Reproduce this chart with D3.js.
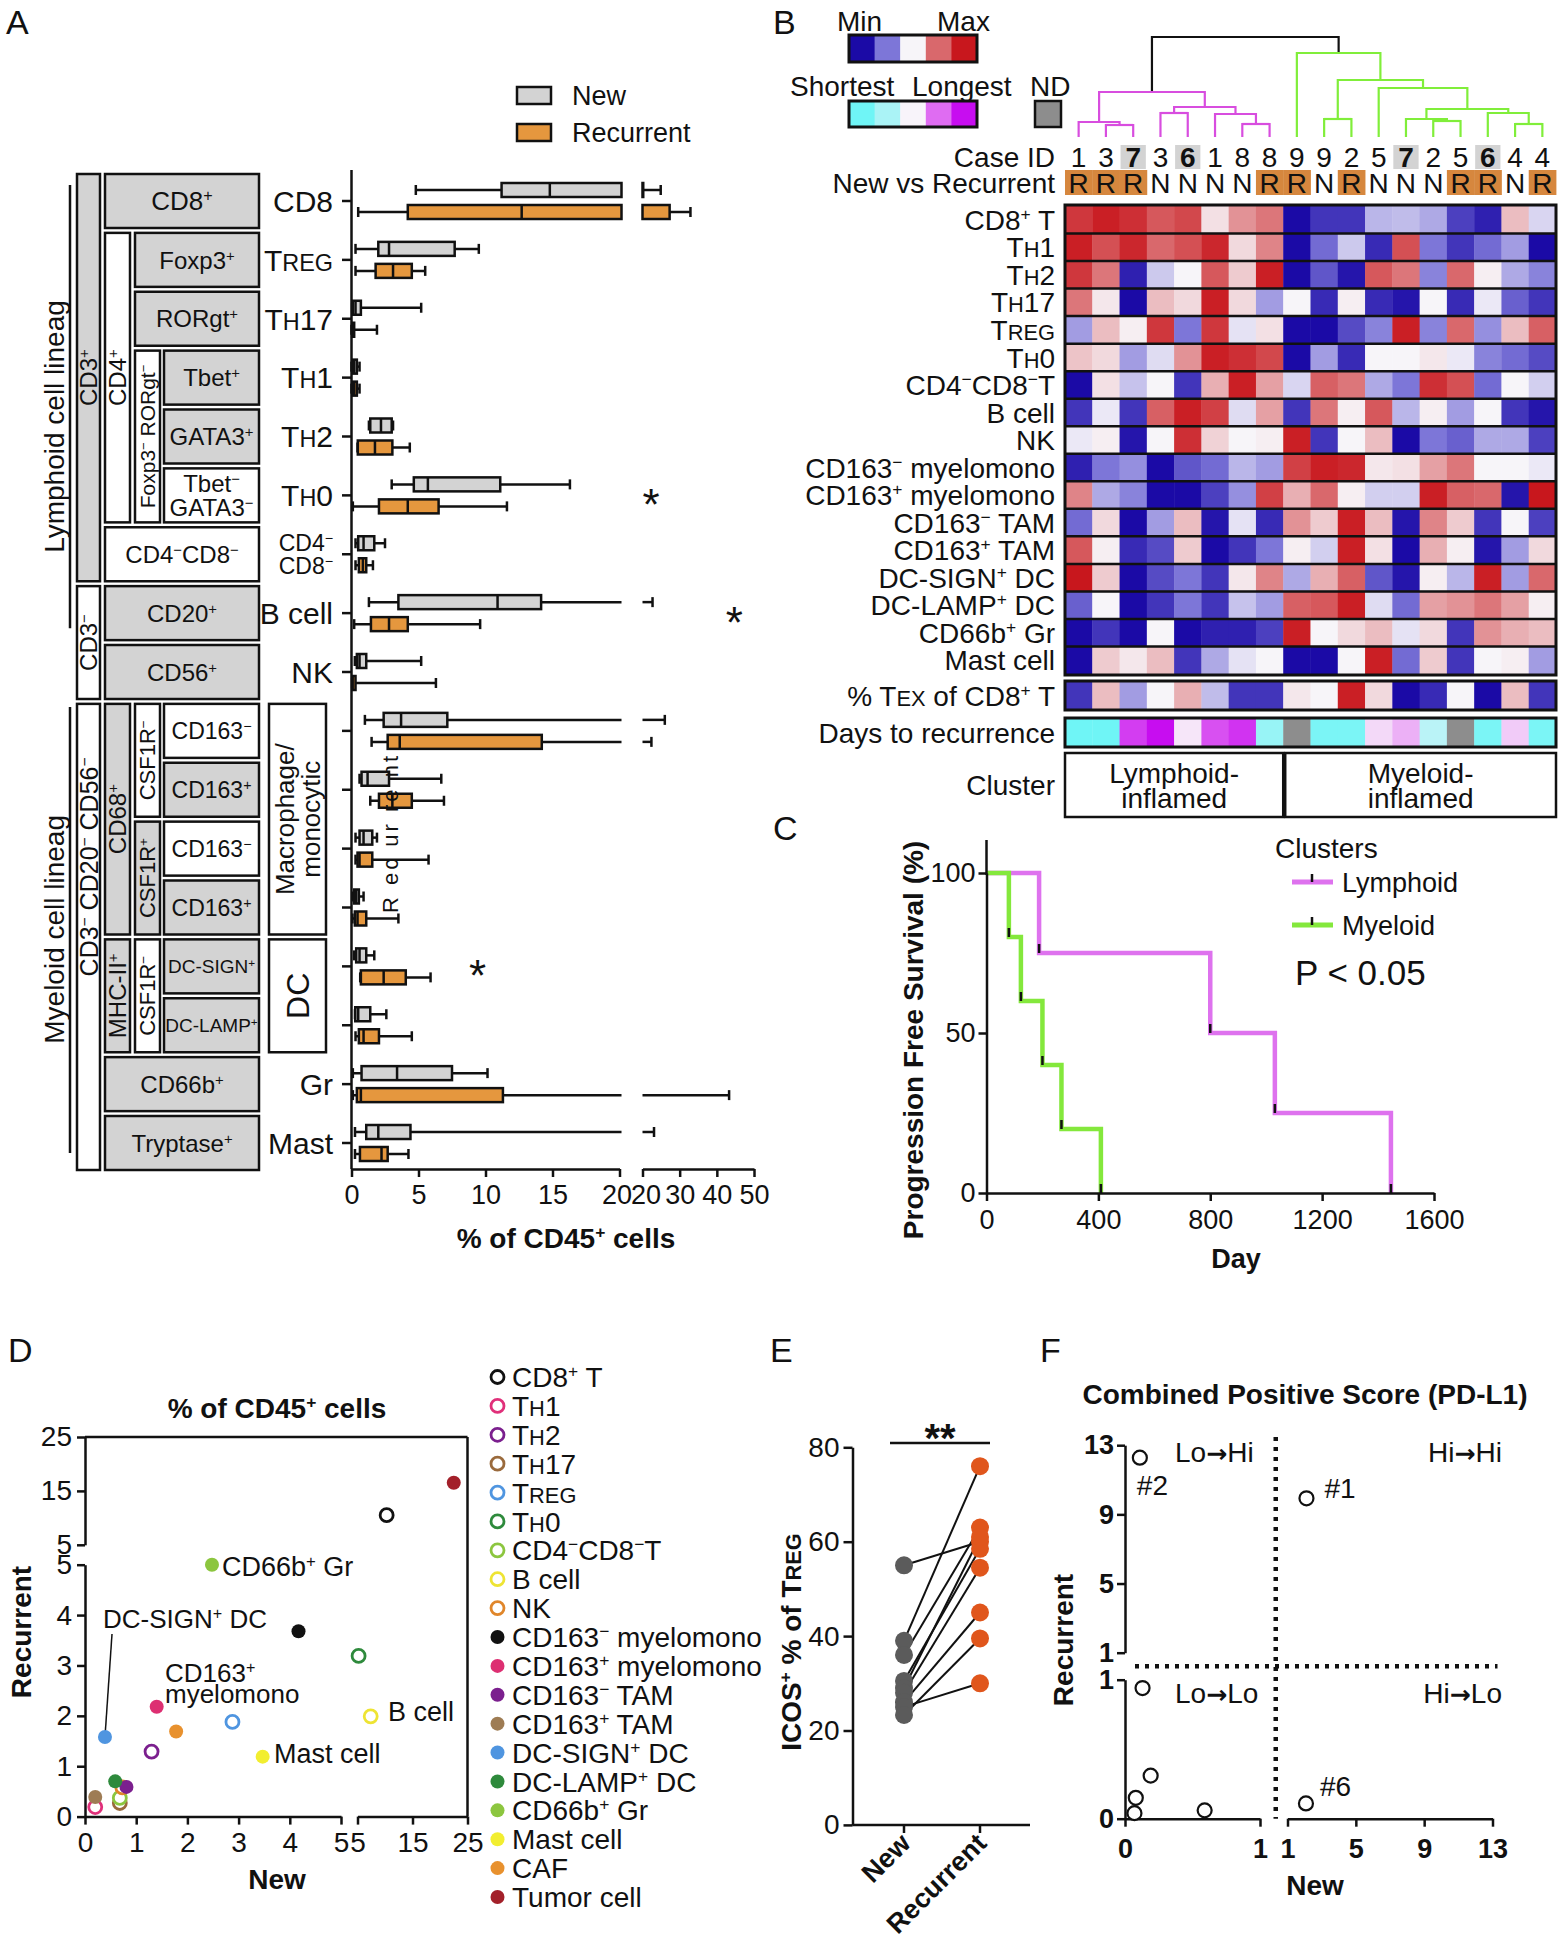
<!DOCTYPE html>
<html>
<head>
<meta charset="utf-8">
<title>Immune landscape figure</title>
<script src="https://cdn.jsdelivr.net/npm/d3@7"></script>
<style>
  body { margin: 0; background: #fff; }
  svg { display: block; font-family: "Liberation Sans", Arial, Helvetica, sans-serif; }
</style>
</head>
<body>
<svg id="fig" width="1568" height="1950"></svg>
<script>
// ---------------- data: panel A (box plots, % of CD45+) ----------------
const rowsA = ["CD8","TREG","TH17","TH1","TH2","TH0","CD4CD8","Bcell","NK","M163n","M163p","O163n","O163p","DCSIGN","DCLAMP","Gr","Mast"];
const rowTextA = ["CD8","T{REG}","T{H}17","T{H}1","T{H}2","T{H}0","","B cell","NK","","","","","","","Gr","Mast"];
// [min, q1, median, q3, max]
const newStats = [
  [4.8,11.2,14.8,20.2,24.9],[0.3,2.0,2.8,7.7,9.5],[0.05,0.1,0.3,0.7,5.2],[0,0.1,0.2,0.4,0.6],
  [1.3,1.4,2.2,3.0,3.1],[3.0,4.65,5.7,11.1,16.3],[0.3,0.5,0.9,1.7,2.5],[1.3,3.5,10.9,14.15,22.7],
  [0.25,0.4,0.6,1.1,5.2],[1.0,2.4,3.7,7.15,26.0],[0.6,0.75,1.2,2.8,6.7],[0.3,0.6,0.9,1.55,1.9],
  [0.1,0.2,0.35,0.55,0.9],[0.2,0.35,0.6,1.1,1.7],[0.26,0.28,0.5,1.4,2.6],[0.1,0.75,3.4,7.5,10.15],
  [0.26,1.1,2.0,4.4,23.1]
];
const recStats = [
  [0.5,4.2,12.7,27.3,32.9],[0.3,1.8,3.1,4.5,5.5],[0,0.05,0.1,0.2,1.9],[0,0.1,0.2,0.4,0.6],
  [0.45,0.47,1.75,3.05,4.35],[0.1,2.05,4.2,6.5,11.6],[0.3,0.55,0.85,1.1,1.6],[0.2,1.45,2.8,4.2,9.6],
  [0.05,0.06,0.08,0.3,6.3],[1.5,2.7,3.6,14.2,22.4],[1.4,2.05,3.05,4.5,6.9],[0.3,0.45,0.6,1.55,5.75],
  [0.07,0.25,0.45,1.1,3.5],[0.65,0.7,2.4,4.05,5.9],[0.3,0.55,0.9,2.05,4.5],[0.1,0.4,0.7,11.3,43.3],
  [0.26,0.63,2.24,2.7,4.25]
];
const starRows = ["TH0","Bcell","DCSIGN"];
const starVals = [22.3, 44.7, 9.4];
// lineage boxes: column, first row, last row, label, grey?, vertical?, font size
const lineage = [
  ["c3","CD8","CD4CD8","CD3^+",1,1,24],
  ["c46","CD8","CD8","CD8^+",1,0,26],
  ["c4","TREG","TH0","CD4^+",0,1,24],
  ["c56","TREG","TREG","Foxp3^+",1,0,24],
  ["c56","TH17","TH17","RORgt^+",1,0,24],
  ["c5","TH1","TH0","Foxp3^- RORgt^-",0,1,21],
  ["c6","TH1","TH1","Tbet^+",1,0,24],
  ["c6","TH2","TH2","GATA3^+",1,0,24],
  ["c6","TH0","TH0","Tbet^-|GATA3^-",0,0,24],
  ["c46","CD4CD8","CD4CD8","CD4^-CD8^-",0,0,24],
  ["c3","Bcell","NK","CD3^-",0,1,24],
  ["c46","Bcell","Bcell","CD20^+",1,0,24],
  ["c46","NK","NK","CD56^+",1,0,24],
  ["c3","M163n","Mast","CD3^- CD20^- CD56^-",0,1,25],
  ["c4","M163n","O163p","CD68^+",1,1,24],
  ["c5","M163n","M163p","CSF1R^-",0,1,22],
  ["c6","M163n","M163n","CD163^-",0,0,23],
  ["c6","M163p","M163p","CD163^+",1,0,23],
  ["c5","O163n","O163p","CSF1R^+",1,1,22],
  ["c6","O163n","O163n","CD163^-",0,0,23],
  ["c6","O163p","O163p","CD163^+",1,0,23],
  ["c4","DCSIGN","DCLAMP","MHC-II^+",1,1,24],
  ["c5","DCSIGN","DCLAMP","CSF1R^-",0,1,22],
  ["c6","DCSIGN","DCSIGN","DC-SIGN^+",1,0,19],
  ["c6","DCLAMP","DCLAMP","DC-LAMP^+",1,0,19],
  ["c46","Gr","Gr","CD66b^+",1,0,24],
  ["c46","Mast","Mast","Tryptase^+",1,0,24],
  ["mac","M163n","O163p","Macrophage/|monocytic",0,1,26],
  ["mac","DCSIGN","DCLAMP","DC",0,1,32]
];

// ---------------- data: panel B (heatmap) ----------------
const caseIds = ["1","3","7","3","6","1","8","8","9","9","2","5","7","2","5","6","4","4"];
const caseBold = [0,0,1,0,1,0,0,0,0,0,0,0,1,0,0,1,0,0];
const caseType = ["R","R","R","N","N","N","N","R","R","N","R","N","N","N","R","R","N","R"];
const heatRows = ["CD8^+ T","T{H}1","T{H}2","T{H}17","T{REG}","T{H}0","CD4^-CD8^-T","B cell","NK",
  "CD163^- myelomono","CD163^+ myelomono","CD163^- TAM","CD163^+ TAM","DC-SIGN^+ DC","DC-LAMP^+ DC","CD66b^+ Gr","Mast cell"];
const heatVals = [
  [1.6,1.9,1.7,1.2,1.4,0.15,0.7,0.9,-2,-1.6,-1.6,-0.5,-0.45,-0.6,-1.5,-1.8,0.4,-0.25],
  [1.9,1.3,1.8,1.0,1.3,1.8,0.2,0.8,-2,-1.1,-0.35,-1.7,1.3,-1.0,-1.6,-1.1,-0.7,-2],
  [1.6,0.9,-1.8,-0.35,0,1.2,0.3,1.9,-2,-1.3,-1.9,1.2,0.9,-0.9,1.0,0.05,-0.6,-0.9],
  [0.9,0.1,-2,0.4,0.2,1.9,0.2,-0.7,0,-1.7,0.05,-1.7,-1.9,0,-1.7,-0.1,-1.2,-1.6],
  [-0.7,0.4,0.05,1.6,-1.0,1.6,-0.15,0.15,-2,-2,-1.4,-0.9,1.9,-0.9,1.0,-0.8,0.4,1.1],
  [0.35,0.2,-0.7,-0.2,0.7,1.9,1.7,1.4,-2,-0.7,-1.7,0,0,0.1,-0.1,-0.9,-1.1,-1.4],
  [-2,0.15,-0.4,0,-1.6,0.5,1.9,0.6,-0.25,1.1,0.9,-0.6,-1.0,1.7,1.3,-1.1,0,-0.3],
  [-1.6,-0.1,-1.6,1.1,1.9,1.5,-0.2,0.6,-1.6,0.9,0.05,1.2,-0.5,0.05,-0.7,0,-1.6,-1.9],
  [-0.1,0.05,-1.9,0,1.7,0.25,0,0.05,1.9,-1.6,0,0.4,-2,-1.0,-1.2,-0.6,-0.6,-1.5],
  [-1.8,-1.0,-0.8,-2,-1.3,-1.1,-0.5,-0.7,1.5,1.9,1.8,0.1,0.15,0.6,0.9,0,0,-0.1],
  [0.8,-0.6,-0.9,-2,-2,-1.5,-0.8,1.5,0.5,1.0,0.05,-0.3,-0.3,1.9,1.1,1.0,-1.9,2],
  [-1.1,0.2,-2,-0.7,0.4,-1.9,-0.15,-1.7,0.7,0.3,1.9,0.4,-1.9,0.8,0.3,-1.6,0,-1.5],
  [1.2,0.05,-1.7,-1.4,0.3,-2,-1.6,-1.0,0.05,-0.3,1.9,0.15,-2,0.5,0.05,-1.9,-0.7,0.2],
  [2,0.3,-2,-1.4,-1.0,-1.6,0.1,0.8,-0.6,0.5,1.1,-1.3,-1.9,0.05,-0.5,1.9,-0.7,1.0],
  [-1.2,0,-2,-1.6,-1.0,-1.6,-0.4,-0.7,1.1,1.2,1.9,-0.2,-1.1,0.6,0.7,0.9,0.6,0.05],
  [-2,-1.6,-2,0,-2,-1.8,-1.8,-1.5,1.9,0,0.2,0.4,-0.15,0.2,-1.6,0.7,0.5,0.4],
  [-2,0.3,0.1,0.4,-1.6,-0.6,-0.15,0,-2,-2,0,1.9,-1.1,0.3,-1.6,0,0.05,-0.7]
];
const texVals = [-1.6,0.4,-0.7,0,0.5,-0.45,-1.6,-1.6,0.1,0,1.9,0.2,-2,-1.7,0,-2,0.4,-1.6];
const daysVals = [-2,-2,1.5,2,0.1,1.3,1.6,-1.3,null,-1.8,-1.8,0.2,0.5,-0.8,null,-1.8,0.3,-1.8];
// dendrogram: merge heights (arbitrary distance units), leaves are column indices
const dendro = {h:100, c:[
  {h:45, c:[{h:15, c:[0, {h:12, c:[1,2]}]}, {h:30, c:[{h:24, c:[3,4]}, {h:23, c:[5, {h:13, c:[6,7]}]}]}]},
  {h:84, c:[8, {h:57, c:[{h:18, c:[9,10]}, {h:49, c:[11, {h:28, c:[{h:18, c:[12, {h:16, c:[13,14]}]}, {h:24, c:[15, {h:13, c:[16,17]}]}]}]}]}]}
]};

// ---------------- data: panel C (Kaplan-Meier) ----------------
const lymphDays = [0,188,800,1031,1446];
const lymphPFS  = [100,75,50,25,0];
const myeloDays = [0,80,123,200,268,409];
const myeloPFS  = [100,80,60,40,20,0];

// ---------------- data: panel D ----------------
const dCells = ["CD8^+ T","T{H}1","T{H}2","T{H}17","T{REG}","T{H}0","CD4^-CD8^-T","B cell","NK","CD163^- myelomono",
  "CD163^+ myelomono","CD163^- TAM","CD163^+ TAM","DC-SIGN^+ DC","DC-LAMP^+ DC","CD66b^+ Gr","Mast cell","CAF","Tumor cell"];
const dNew = [10.3,0.2,1.3,0.68,2.88,5.2,0.68,7.4,0.73,4.17,1.40,0.81,0.2,0.39,0.59,2.48,3.47,1.78,22.5];
const dRec = [10.5,0.19,1.29,0.27,1.88,3.19,0.37,1.99,0.58,3.68,2.18,0.59,0.39,1.58,0.70,5.0,1.19,1.69,16.5];
const dColors = ["#111111","#e0307a","#7b1f8e","#9a6a3c","#4f95e0","#2e8a3c","#8cc63f","#eee433","#e0862a","#111111",
  "#dd2f72","#7b1f8e","#9e7c54","#4f95e0","#2e8a3c","#8cc63f","#f2ee30","#e8912e","#a3202a"];
const dFilled = [0,0,0,0,0,0,0,0,0,1,1,1,1,1,1,1,1,1,1];

// ---------------- data: panel E ----------------
const icosNew = [55, 39, 36, 30.5, 29, 28, 26, 25, 23.3];
const icosRec = [60, 76, 63, 58.5, 61, 54.5, 45, 30, 39.5];

// ---------------- data: panel F ----------------
const cpsNew = [0.11, 2.11, 0.13, 0.19, 0.08, 0.07, 0.59, 2.08];
const cpsRec = [12.28, 9.93, 0.94, 0.31, 0.15, 0.04, 0.06, 0.11];
const cpsTag = ["#2","#1","","","","","","#6"];

// ================= helpers =================
const svg = d3.select("#fig");
const GREY = "#d3d3d3", INK = "#111";
const fmtInt = d3.format("d");

// "^+" / "^-" superscripts, "{ABC}" small caps, ">" arrow
function rich(t, str, fs) {
  const re = /\^([+\-])|\{([^}]*)\}|(>)|([^^{>]+)/g;
  let m;
  while ((m = re.exec(str)) !== null) {
    if (m[1]) t.append("tspan").attr("baseline-shift", "super").attr("font-size", fs * 0.62).text(m[1] === "+" ? "+" : "\u2212");
    else if (m[2] !== undefined) t.append("tspan").attr("font-size", fs * 0.78).text(m[2]);
    else if (m[3]) t.append("tspan").attr("font-family", "DejaVu Sans").attr("font-weight", "bold").attr("font-size", fs * 0.9).text("\u2192");
    else t.append("tspan").text(m[4]);
  }
  return t;
}
function txt(g, x, y, str, fs, o = {}) {
  const lines = String(str).split("|");
  const lh = o.lh || fs;
  const holder = g.append("g").attr("transform", `translate(${x},${y})` + (o.rot ? ` rotate(${o.rot})` : ""));
  lines.forEach((s, i) => {
    const t = holder.append("text")
      .attr("x", 0)
      .attr("y", (i - (lines.length - 1) / 2) * lh + (o.mid ? fs * 0.36 : 0))
      .attr("font-size", fs)
      .attr("text-anchor", o.anchor || "start")
      .attr("fill", o.fill || INK);
    if (o.bold) t.attr("font-weight", "bold");
    if (o.ls) t.attr("letter-spacing", o.ls);
    rich(t, s, fs);
  });
  return holder;
}
function line(g, x1, y1, x2, y2, col = INK, w = 2.5) {
  return g.append("line").attr("x1", x1).attr("y1", y1).attr("x2", x2).attr("y2", y2)
    .attr("stroke", col).attr("stroke-width", w);
}
function styleAxis(g, fs, bold) {
  g.attr("font-family", null).attr("font-size", fs);
  g.selectAll("path, line").attr("stroke", INK).attr("stroke-width", 2.5);
  g.selectAll("text").attr("fill", INK).attr("font-weight", bold ? "bold" : null);
}
function letter(x, y, s) { svg.append("text").attr("x", x).attr("y", y).attr("font-size", 34).attr("fill", INK).text(s); }

// ================= Panel A =================
const gA = svg.append("g");
letter(6, 34, "A");
const xA1 = d3.scaleLinear().domain([0, 20]).range([351.5, 619.5]);
const xA2 = d3.scaleLinear().domain([20, 50]).range([642.5, 754]);
const yA = d3.scalePoint().domain(rowsA).range([201, 1143]);
const xA = v => v <= 20 ? xA1(v) : xA2(v);
const spans = (a, b) => b <= 20 ? [[xA1(a), xA1(b)]] : a >= 20 ? [[xA2(a), xA2(b)]]
  : [[xA1(a), xA1(20) + 2], [xA2(20), xA2(b)]];

// legend
[["New", GREY, 87], ["Recurrent", "#e5973e", 124]].forEach(([lab, col, y]) => {
  gA.append("rect").attr("x", 517).attr("y", y).attr("width", 34).attr("height", 17)
    .attr("fill", col).attr("stroke", INK).attr("stroke-width", 2.5);
  txt(gA, 572, y + 18, lab, 27);
});

// lineage annotation boxes
const colX = { c3: [77, 100], c4: [105, 130], c5: [135, 160], c6: [164, 259], c56: [135, 259], c46: [105, 259], mac: [269, 326] };
lineage.forEach(([col, r0, r1, lab, grey, vert, fs]) => {
  const [x0, x1] = colX[col];
  const y0 = yA(r0) - 27, y1 = yA(r1) + 27;
  gA.append("rect").attr("x", x0).attr("y", y0).attr("width", x1 - x0).attr("height", y1 - y0)
    .attr("fill", grey ? GREY : "#fff").attr("stroke", INK).attr("stroke-width", 2.5);
  const cy = lab.startsWith("CD3^- CD20") ? (y0 + y1) / 2 - 70 : (y0 + y1) / 2;
  txt(gA, (x0 + x1) / 2, cy, lab, fs, { anchor: "middle", mid: true, rot: vert ? -90 : 0, lh: fs * 1.0 });
});
// lineage brackets
line(gA, 70, yA("CD8") - 16, 70, yA("Bcell") + 15);
line(gA, 70, yA("M163n") - 24, 70, yA("Mast") + 10);
txt(gA, 54, yA("TH2") - 10, "Lymphoid cell lineag", 28, { anchor: "middle", mid: true, rot: -90 });
txt(gA, 54, yA("DCSIGN") - 37, "Myeloid cell lineag", 28, { anchor: "middle", mid: true, rot: -90 });

// boxes
function drawBox(s, yc, fill) {
  const [mn, q1, md, q3, mx] = s;
  spans(mn, mx).forEach(([a, b]) => line(gA, a, yc, b, yc));
  [mn, mx].forEach(v => line(gA, xA(v), yc - 5, xA(v), yc + 5));
  spans(q1, q3).forEach(([a, b]) => gA.append("rect").attr("x", a).attr("y", yc - 7)
    .attr("width", Math.max(b - a, 0.6)).attr("height", 14)
    .attr("fill", fill).attr("stroke", INK).attr("stroke-width", 2.5));
  line(gA, xA(md), yc - 7, xA(md), yc + 7);
}
rowsA.forEach((r, i) => {
  drawBox(newStats[i], yA(r) - 11, GREY);
  drawBox(recStats[i], yA(r) + 11, "#e5973e");
});
// axes
line(gA, 351.5, 170, 351.5, 1169);
rowsA.forEach((r, i) => {
  line(gA, 342, yA(r), 351.5, yA(r));
  if (rowTextA[i]) txt(gA, 333, yA(r), rowTextA[i], 30, { anchor: "end", mid: true });
});
txt(gA, 333, yA("CD4CD8"), "CD4^-|CD8^-", 23, { anchor: "end", mid: true, lh: 23 });
const axA1 = gA.append("g").attr("transform", "translate(0,1169)")
  .call(d3.axisBottom(xA1).tickValues([0, 5, 10, 15, 20]).tickSize(8).tickSizeOuter(0).tickPadding(8));
const axA2 = gA.append("g").attr("transform", "translate(0,1169)")
  .call(d3.axisBottom(xA2).tickValues([20, 30, 40, 50]).tickSize(8).tickSizeOuter(0).tickPadding(8));
styleAxis(axA1, 27); styleAxis(axA2, 27);
// the two "20" labels meet at the axis break
axA1.selectAll(".tick text").filter(d => d === 20).attr("dx", -3);
axA2.selectAll(".tick text").filter(d => d === 20).attr("dx", 3);
txt(gA, 566, 1248, "% of CD45^+ cells", 28, { anchor: "middle", bold: true });
starRows.forEach((r, i) => txt(gA, xA(starVals[i]), yA(r) + 25, "*", 44, { anchor: "middle" }));
// stray rotated text present in the source figure
txt(gA, 398, 833, "R ec ur re nt", 22, { anchor: "middle", rot: -90, ls: 3 });

// ================= Panel B =================
const gB = svg.append("g");
letter(773, 34, "B");
const heatColor = d3.scaleLinear().domain([-2, -1, 0, 1, 2])
  .range(["#1b0aa6", "#7d76d8", "#f7f5f9", "#d9686c", "#c8171d"]).clamp(true);
const dayColor = d3.scaleLinear().domain([-2, -1, 0, 1, 2])
  .range(["#6ff5f6", "#aaf3f6", "#f8f4fa", "#df6cf2", "#c70df0"]).clamp(true);
const xB = d3.scaleBand().domain(d3.range(18)).range([1065, 1556]);
const yB = d3.scaleBand().domain(d3.range(heatRows.length)).range([206, 674]);
const bw = xB.bandwidth();

// legends
const legX = d3.scaleBand().domain(d3.range(5)).range([849, 977]);
[-2, -1, 0, 1, 2].forEach((v, i) => {
  gB.append("rect").attr("x", legX(i)).attr("y", 35).attr("width", legX.bandwidth() + 0.5).attr("height", 27).attr("fill", heatColor(v));
  gB.append("rect").attr("x", legX(i)).attr("y", 101).attr("width", legX.bandwidth() + 0.5).attr("height", 26).attr("fill", dayColor(v));
});
gB.append("rect").attr("x", 849).attr("y", 35).attr("width", 128).attr("height", 27).attr("fill", "none").attr("stroke", INK).attr("stroke-width", 3);
gB.append("rect").attr("x", 849).attr("y", 101).attr("width", 128).attr("height", 26).attr("fill", "none").attr("stroke", INK).attr("stroke-width", 3);
gB.append("rect").attr("x", 1035).attr("y", 101).attr("width", 26).attr("height", 26).attr("fill", "#8d8d8d").attr("stroke", INK).attr("stroke-width", 2.5);
txt(gB, 837, 31, "Min", 28); txt(gB, 937, 31, "Max", 28);
txt(gB, 790, 96, "Shortest", 28); txt(gB, 912, 96, "Longest", 28); txt(gB, 1030, 96, "ND", 28);

// dendrogram
const hy = d3.scaleLinear().domain([0, 100]).range([137, 37]);
function layout(n) {
  if (typeof n === "number") return { x: xB(n) + bw / 2, h: 0 };
  const kids = n.c.map(layout);
  return { x: (kids[0].x + kids[1].x) / 2, h: n.h, kids };
}
const clusterCol = ["#d84ddf", "#80ee3a"];
function drawNode(node, col, isRoot) {
  if (!node.kids) return;
  line(gB, node.kids[0].x, hy(node.h), node.kids[1].x, hy(node.h), col, 2.2);
  node.kids.forEach((k, i) => {
    line(gB, k.x, hy(node.h) - 1, k.x, hy(k.h), col, 2.2);
    drawNode(k, isRoot ? clusterCol[i] : col, false);
  });
}
drawNode(layout(dendro), INK, true);

// case ids & new/recurrent
caseIds.forEach((c, i) => {
  if (caseBold[i]) gB.append("rect").attr("x", xB(i) + 1).attr("y", 145).attr("width", bw - 2).attr("height", 24).attr("fill", GREY);
  txt(gB, xB(i) + bw / 2, 167, c, 28, { anchor: "middle", bold: !!caseBold[i] });
  if (caseType[i] === "R") gB.append("rect").attr("x", xB(i)).attr("y", 170).attr("width", bw + 0.4).attr("height", 25).attr("fill", "#d6873e");
  txt(gB, xB(i) + bw / 2, 193, caseType[i], 28, { anchor: "middle" });
});
txt(gB, 1055, 167, "Case ID", 28, { anchor: "end" });
txt(gB, 1055, 193, "New vs Recurrent", 28, { anchor: "end" });

// heatmap cells
heatVals.forEach((row, r) => row.forEach((v, c) => {
  gB.append("rect").attr("x", xB(c)).attr("y", yB(r)).attr("width", bw + 0.4).attr("height", yB.bandwidth() + 0.4).attr("fill", heatColor(v));
}));
d3.range(1, heatRows.length).forEach(r => line(gB, 1065, yB(r), 1556, yB(r), INK, 2.5));
gB.append("rect").attr("x", 1065).attr("y", 205).attr("width", 491).attr("height", 470).attr("fill", "none").attr("stroke", INK).attr("stroke-width", 3);
heatRows.forEach((lab, r) => txt(gB, 1055, yB(r) + yB.bandwidth() / 2, lab, 28, { anchor: "end", mid: true }));

// extra rows
[[texVals, 681, v => heatColor(v), "% T{EX} of CD8^+ T"], [daysVals, 718, v => v === null ? "#8d8d8d" : dayColor(v), "Days to recurrence"]]
  .forEach(([vals, y, colf, lab]) => {
    vals.forEach((v, c) => gB.append("rect").attr("x", xB(c)).attr("y", y).attr("width", bw + 0.4).attr("height", 29).attr("fill", colf(v)));
    gB.append("rect").attr("x", 1065).attr("y", y).attr("width", 491).attr("height", 29).attr("fill", "none").attr("stroke", INK).attr("stroke-width", 3);
    txt(gB, 1055, y + 14.5, lab, 28, { anchor: "end", mid: true });
  });

// cluster boxes
[[0, 7, "Lymphoid-|inflamed"], [8, 17, "Myeloid-|inflamed"]].forEach(([a, b, lab]) => {
  const x0 = xB(a) + (a ? 2 : 0), x1 = xB(b) + bw;
  gB.append("rect").attr("x", x0).attr("y", 753).attr("width", x1 - x0).attr("height", 64).attr("fill", "#fff").attr("stroke", INK).attr("stroke-width", 2.5);
  txt(gB, (x0 + x1) / 2, 785, lab, 28, { anchor: "middle", mid: true, lh: 25 });
});
txt(gB, 1055, 785, "Cluster", 28, { anchor: "end", mid: true });

// ================= Panel C =================
const gC = svg.append("g");
letter(773, 840, "C");
const xC = d3.scaleLinear().domain([0, 1600]).range([986.5, 1434]);
const yC = d3.scaleLinear().domain([0, 100]).range([1193, 873]);
const km = d3.line().x(d => xC(d[0])).y(d => yC(d[1])).curve(d3.curveStepAfter);
[[lymphDays, lymphPFS, "#de72ee"], [myeloDays, myeloPFS, "#84e83c"]].forEach(([t, s, col]) => {
  const pts = t.map((d, i) => [d, s[i]]);
  gC.append("path").attr("d", km(pts)).attr("fill", "none").attr("stroke", col).attr("stroke-width", 4.5);
  pts.slice(1).forEach(p => line(gC, xC(p[0]), yC(p[1]), xC(p[0]), yC(p[1]) - 9, INK, 2.5));
});
const axC1 = gC.append("g").attr("transform", "translate(0,1193)")
  .call(d3.axisBottom(xC).tickValues([0, 400, 800, 1200, 1600]).tickFormat(fmtInt).tickSize(8).tickSizeOuter(0).tickPadding(9));
const axC2 = gC.append("g").attr("transform", "translate(986.5,0)")
  .call(d3.axisLeft(yC).tickValues([0, 50, 100]).tickFormat(fmtInt).tickSize(8).tickSizeOuter(0).tickPadding(3));
styleAxis(axC1, 27); styleAxis(axC2, 27);
line(gC, 986.5, 840, 986.5, 875);
txt(gC, 1236, 1268, "Day", 27, { anchor: "middle", bold: true });
txt(gC, 923, 1040, "Progression Free Survival (%)", 28, { anchor: "middle", bold: true, rot: -90 });
txt(gC, 1275, 858, "Clusters", 28);
[["Lymphoid", "#de72ee", 882], ["Myeloid", "#84e83c", 925]].forEach(([lab, col, y]) => {
  line(gC, 1292, y, 1333, y, col, 5);
  line(gC, 1312, y, 1312, y - 8, INK, 2.5);
  txt(gC, 1342, y + 10, lab, 27);
});
txt(gC, 1295, 985, "P < 0.05", 35);

// ================= Panel D =================
const gD = svg.append("g");
letter(8, 1362, "D");
const xD1 = d3.scaleLinear().domain([0, 5]).range([85, 341]);
const xD2 = d3.scaleLinear().domain([5, 25]).range([357.5, 467.5]);
const yD1 = d3.scaleLinear().domain([0, 5]).range([1816.6, 1564.7]);
const yD2 = d3.scaleLinear().domain([5, 25]).range([1544.8, 1437]);
const xD = v => v <= 5 ? xD1(v) : xD2(v);
const yD = v => v <= 5 ? yD1(v) : yD2(v);
txt(gD, 277, 1418, "% of CD45^+ cells", 28, { anchor: "middle", bold: true });
line(gD, 85, 1437, 467.5, 1437);
line(gD, 467.5, 1437, 467.5, 1816.6);
[
  [d3.axisBottom(xD1).tickValues([0, 1, 2, 3, 4, 5]), "translate(0,1816.6)"],
  [d3.axisBottom(xD2).tickValues([5, 15, 25]), "translate(0,1816.6)"],
  [d3.axisLeft(yD1).tickValues([0, 1, 2, 3, 4, 5]), "translate(85,0)"],
  [d3.axisLeft(yD2).tickValues([5, 15, 25]), "translate(85,0)"]
].forEach(([ax, tr]) => styleAxis(gD.append("g").attr("transform", tr)
  .call(ax.tickFormat(fmtInt).tickSize(8).tickSizeOuter(0).tickPadding(tr.startsWith("translate(0") ? 8 : 5)), 28));
txt(gD, 277, 1889, "New", 28, { anchor: "middle", bold: true });
txt(gD, 31, 1632, "Recurrent", 28, { anchor: "middle", bold: true, rot: -90 });
// leader line for DC-SIGN+ DC
line(gD, 112, 1634, xD(dNew[13]), yD(dRec[13]), INK, 1.5);
dCells.forEach((c, i) => {
  gD.append("circle").attr("cx", xD(dNew[i])).attr("cy", yD(dRec[i])).attr("r", dFilled[i] ? 7 : 6.5)
    .attr("fill", dFilled[i] ? dColors[i] : "#fff").attr("stroke", dColors[i]).attr("stroke-width", dFilled[i] ? 0 : 2.8);
});
txt(gD, 222, 1576, "CD66b^+ Gr", 27);
txt(gD, 103, 1628, "DC-SIGN^+ DC", 26);
txt(gD, 165, 1692, "CD163^+|myelomono", 26, { lh: 21 });
txt(gD, 388, 1721, "B cell", 27);
txt(gD, 274, 1763, "Mast cell", 27);
// legend
const yLeg = d3.scalePoint().domain(d3.range(dCells.length)).range([1377, 1897]);
dCells.forEach((c, i) => {
  gD.append("circle").attr("cx", 497.5).attr("cy", yLeg(i)).attr("r", dFilled[i] ? 7 : 6.5)
    .attr("fill", dFilled[i] ? dColors[i] : "#fff").attr("stroke", dColors[i]).attr("stroke-width", dFilled[i] ? 0 : 2.8);
  txt(gD, 512, yLeg(i), c, 28, { mid: true });
});

// ================= Panel E =================
const gE = svg.append("g");
letter(770, 1362, "E");
const yE = d3.scaleLinear().domain([0, 80]).range([1824.9, 1447.3]);
const xE = d3.scalePoint().domain(["New", "Recurrent"]).range([904, 980]);
const axE = gE.append("g").attr("transform", "translate(852.5,0)")
  .call(d3.axisLeft(yE).tickValues([0, 20, 40, 60, 80]).tickSize(9).tickSizeOuter(0).tickPadding(4));
styleAxis(axE, 28);
line(gE, 852.5, 1824.9, 1030, 1824.9);
["New", "Recurrent"].forEach(k => {
  line(gE, xE(k), 1824.9, xE(k), 1833);
  txt(gE, xE(k) + 8, 1845, k, 27, { anchor: "end", bold: true, rot: -45 });
});
icosNew.forEach((v, i) => line(gE, xE("New"), yE(v), xE("Recurrent"), yE(icosRec[i]), INK, 2));
icosNew.forEach(v => gE.append("circle").attr("cx", xE("New")).attr("cy", yE(v)).attr("r", 9).attr("fill", "#5b5b5b"));
icosRec.forEach(v => gE.append("circle").attr("cx", xE("Recurrent")).attr("cy", yE(v)).attr("r", 9).attr("fill", "#e0561c"));
line(gE, 890, 1443, 990, 1443);
txt(gE, 940, 1452, "**", 40, { anchor: "middle", bold: true });
txt(gE, 801, 1642, "ICOS^+ % of T{REG}", 28, { anchor: "middle", bold: true, rot: -90 });

// ================= Panel F =================
const gF = svg.append("g");
letter(1040, 1362, "F");
const xF1 = d3.scaleLinear().domain([0, 1]).range([1125, 1260]);
const xF2 = d3.scaleLinear().domain([1, 13]).range([1287.5, 1492.5]);
const yF1 = d3.scaleLinear().domain([0, 1]).range([1818.7, 1679.7]);
const yF2 = d3.scaleLinear().domain([1, 13]).range([1652.7, 1445.2]);
const xF = v => v <= 1 ? xF1(v) : xF2(v);
const yF = v => v <= 1 ? yF1(v) : yF2(v);
txt(gF, 1305, 1404, "Combined Positive Score (PD-L1)", 28, { anchor: "middle", bold: true });
[
  [d3.axisBottom(xF1).tickValues([0, 1]), "translate(0,1818.7)"],
  [d3.axisBottom(xF2).tickValues([1, 5, 9, 13]), "translate(0,1818.7)"],
  [d3.axisLeft(yF1).tickValues([0, 1]), "translate(1125,0)"],
  [d3.axisLeft(yF2).tickValues([1, 5, 9, 13]), "translate(1125,0)"]
].forEach(([ax, tr]) => styleAxis(gF.append("g").attr("transform", tr)
  .call(ax.tickFormat(fmtInt).tickSize(8).tickSizeOuter(0).tickPadding(tr.startsWith("translate(0") ? 12 : 3)), 27, true));
const midX = (xF1(1) + xF2(1)) / 2 + 2, midY = (yF1(1) + yF2(1)) / 2;
line(gF, midX, 1437, midX, 1818.7, INK, 4.5).attr("stroke-dasharray", "4 6");
line(gF, 1135, midY, 1497.5, midY, INK, 4.5).attr("stroke-dasharray", "4 6");
txt(gF, 1175, 1462, "Lo>Hi", 28); txt(gF, 1502, 1462, "Hi>Hi", 28, { anchor: "end" });
txt(gF, 1175, 1703, "Lo>Lo", 28); txt(gF, 1502, 1703, "Hi>Lo", 28, { anchor: "end" });
const tagOff = { "#2": [-3, 37], "#1": [18, 0], "#6": [14, -7] };
cpsNew.forEach((v, i) => {
  gF.append("circle").attr("cx", xF(v)).attr("cy", yF(cpsRec[i])).attr("r", 7)
    .attr("fill", "#fff").attr("stroke", INK).attr("stroke-width", 2.2);
  if (cpsTag[i]) txt(gF, xF(v) + tagOff[cpsTag[i]][0], yF(cpsRec[i]) + tagOff[cpsTag[i]][1], cpsTag[i], 28);
});
txt(gF, 1315, 1895, "New", 28, { anchor: "middle", bold: true });
txt(gF, 1073, 1640, "Recurrent", 28, { anchor: "middle", bold: true, rot: -90 });
</script>
</body>
</html>
